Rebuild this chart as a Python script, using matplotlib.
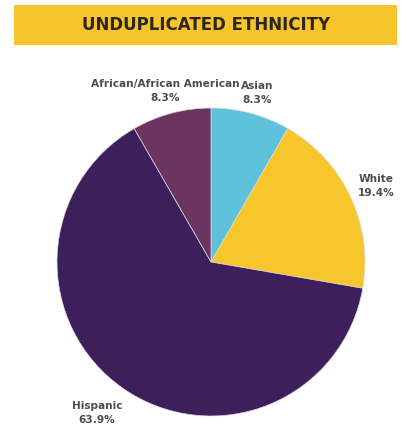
import matplotlib
matplotlib.use("Agg")
import matplotlib.pyplot as plt
from matplotlib.patches import Rectangle

# Unduplicated ethnicity shares, clockwise from 12 o'clock
groups = ["Asian", "White", "Hispanic", "African/African American"]
shares = [8.3, 19.4, 63.9, 8.3]
colors = ["#5DC2DA", "#F6C62C", "#3C1F5B", "#6C3461"]

W, H = 407, 429
fig = plt.figure(figsize=(W / 100, H / 100), dpi=100)
fig.patch.set_facecolor("white")

# title banner
fig.patches.append(Rectangle((14 / W, 1 - 45 / H), 383 / W, 40 / H,
                             transform=fig.transFigure, facecolor="#F7C52B",
                             edgecolor="none"))
fig.text(206 / W, 1 - 25 / H, "UNDUPLICATED ETHNICITY", ha="center", va="center",
         fontsize=12, fontweight="bold", color="#2B2620")

cx, cy, r = 211, 262, 154
ax = fig.add_axes([(cx - r) / W, (H - cy - r) / H, 2 * r / W, 2 * r / H])
ax.pie(shares, colors=colors, startangle=90, counterclock=False,
       wedgeprops=dict(linewidth=0.5, edgecolor="#E0D8E0"))
ax.set_xlim(-1, 1)
ax.set_ylim(-1, 1)
ax.set_aspect("equal")
ax.axis("off")

# label centres in pixels and alignment
label_pos = {
    "African/African American": (165, 91, "center"),
    "Asian": (257, 93, "center"),
    "White": (358, 186, "left"),
    "Hispanic": (97, 413, "center"),
}
for g, s in zip(groups, shares):
    x, y, ha = label_pos[g]
    fig.text(x / W, 1 - y / H, f"{g}\n{s}%", ha=ha, va="center",
             fontsize=7.6, fontweight="bold", color="#4D4D4D",
             linespacing=1.5, multialignment="center")

fig.savefig("out.png", dpi=100)
